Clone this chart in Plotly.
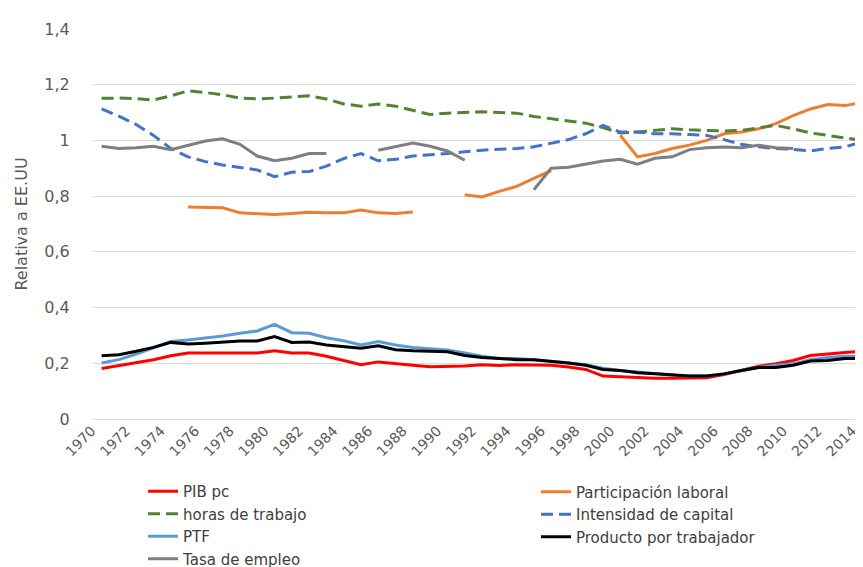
import plotly.graph_objects as go

years = list(range(1970, 2015))

pib_pc = [0.181, 0.192, 0.201, 0.213, 0.227, 0.237, 0.237, 0.237, 0.237, 0.237,
          0.245, 0.237, 0.237, 0.225, 0.210, 0.195, 0.205, 0.198, 0.193, 0.188,
          0.189, 0.190, 0.195, 0.192, 0.195, 0.195, 0.193, 0.187, 0.178, 0.154,
          0.151, 0.150, 0.146, 0.146, 0.146, 0.148, 0.160, 0.174, 0.189, 0.198,
          0.210, 0.228, 0.234, 0.239, 0.243]

participacion = [None, None, None, None, None, 0.761, 0.760, 0.758, 0.740, 0.738,
                 0.734, 0.738, 0.742, 0.740, 0.740, 0.750, 0.740, 0.738, 0.743, None,
                 None, 0.805, 0.797, 0.817, 0.835, 0.864, 0.892, None, None, None,
                 1.018, 0.941, 0.953, 0.971, 0.983, 1.000, 1.024, 1.030, 1.042, 1.060,
                 1.089, 1.113, 1.129, 1.125, 1.137]

horas = [1.151, 1.152, 1.150, 1.145, 1.160, 1.178, 1.172, 1.164, 1.152, 1.149,
         1.152, 1.157, 1.160, 1.149, 1.131, 1.123, 1.131, 1.123, 1.107, 1.093,
         1.098, 1.100, 1.103, 1.100, 1.098, 1.086, 1.078, 1.069, 1.062, 1.046,
         1.027, 1.030, 1.036, 1.042, 1.038, 1.036, 1.034, 1.036, 1.046, 1.054,
         1.042, 1.027, 1.018, 1.010, 1.000]

intensidad = [1.113, 1.087, 1.057, 1.018, 0.971, 0.941, 0.924, 0.912, 0.903, 0.894,
              0.870, 0.886, 0.888, 0.908, 0.935, 0.953, 0.927, 0.932, 0.944, 0.948,
              0.953, 0.959, 0.965, 0.968, 0.971, 0.977, 0.991, 1.003, 1.024, 1.054,
              1.030, 1.030, 1.024, 1.024, 1.021, 1.018, 1.003, 0.986, 0.977, 0.971,
              0.968, 0.962, 0.971, 0.977, 0.995]

ptf = [0.201, 0.213, 0.233, 0.255, 0.278, 0.284, 0.290, 0.298, 0.308, 0.316,
       0.340, 0.310, 0.308, 0.292, 0.281, 0.266, 0.278, 0.266, 0.257, 0.252,
       0.248, 0.237, 0.225, 0.217, 0.217, 0.213, 0.208, 0.201, 0.195, 0.182,
       0.174, 0.168, 0.162, 0.158, 0.154, 0.154, 0.162, 0.174, 0.185, 0.193,
       0.198, 0.213, 0.221, 0.225, 0.225]

producto = [0.227, 0.231, 0.243, 0.257, 0.275, 0.269, 0.272, 0.276, 0.280, 0.280,
            0.296, 0.275, 0.276, 0.266, 0.260, 0.254, 0.263, 0.249, 0.245, 0.243,
            0.241, 0.228, 0.221, 0.217, 0.213, 0.213, 0.208, 0.201, 0.193, 0.178,
            0.174, 0.166, 0.162, 0.158, 0.154, 0.154, 0.162, 0.174, 0.185, 0.185,
            0.193, 0.208, 0.210, 0.217, 0.217]

tasa_empleo = [0.979, 0.971, 0.974, 0.979, 0.967, 0.983, 0.998, 1.006, 0.986, 0.944,
               0.927, 0.936, 0.953, 0.953, None, None, 0.965, 0.979, 0.991, 0.979,
               0.962, 0.929, None, None, None, 0.823, 0.900, 0.904, 0.914, 0.926,
               0.932, 0.915, 0.936, 0.941, 0.967, 0.974, 0.976, 0.974, 0.983, 0.974,
               0.971, None, None, None, None]

x_ticks = list(range(1970, 2015, 2))

series = [
    ("PIB pc", pib_pc, "#FF0000", "solid", "legend"),
    ("Participación laboral", participacion, "#ED7D31", "solid", "legend2"),
    ("horas de trabajo", horas, "#548235", "12px,6px", "legend"),
    ("Intensidad de capital", intensidad, "#4472C4", "12px,6px", "legend2"),
    ("PTF", ptf, "#5B9BD5", "solid", "legend"),
    ("Producto por trabajador", producto, "#000000", "solid", "legend2"),
    ("Tasa de empleo", tasa_empleo, "#7F7F7F", "solid", "legend"),
]

fig = go.Figure()
for name, vals, color, dash, leg in series:
    fig.add_trace(go.Scatter(
        x=years, y=vals, name=name, mode="lines",
        line=dict(color=color, width=3, dash=dash),
        connectgaps=False, legend=leg,
    ))

font_family = "DejaVu Sans"
fig.update_layout(
    width=863, height=567,
    margin=dict(l=85, r=0, t=21, b=152),
    paper_bgcolor="white", plot_bgcolor="white",
    separators=",.",
    font=dict(family=font_family, size=14, color="#595959"),
    xaxis=dict(
        range=[1969.5, 2014.5], tickvals=x_ticks, ticktext=[str(v) for v in x_ticks],
        tickangle=-45, showgrid=False, zeroline=False, showline=False,
        ticks="", tickfont=dict(size=14, color="#595959"), automargin=False,
        ticklabelshift=-10,
    ),
    yaxis=dict(
        range=[0, 1.4], dtick=0.2, showgrid=True, gridcolor="#D9D9D9", gridwidth=1,
        zeroline=True, zerolinecolor="#D9D9D9", zerolinewidth=1, showline=False,
        ticks="outside", ticklen=19, tickcolor="rgba(0,0,0,0)",
        tickfont=dict(size=16, color="#595959"), automargin=False,
        title=dict(text="Relativa a EE.UU", font=dict(size=16, color="#595959"), standoff=12),
    ),
    legend=dict(
        x=0.0643, y=-0.145, xanchor="left", yanchor="top",
        font=dict(size=15, color="#404040"), bgcolor="rgba(0,0,0,0)",
        tracegroupgap=0,
    ),
    legend2=dict(
        x=0.5694, y=-0.145, xanchor="left", yanchor="top",
        font=dict(size=15, color="#404040"), bgcolor="rgba(0,0,0,0)",
        tracegroupgap=0,
    ),
    showlegend=True,
)

fig.write_html("out.html")
